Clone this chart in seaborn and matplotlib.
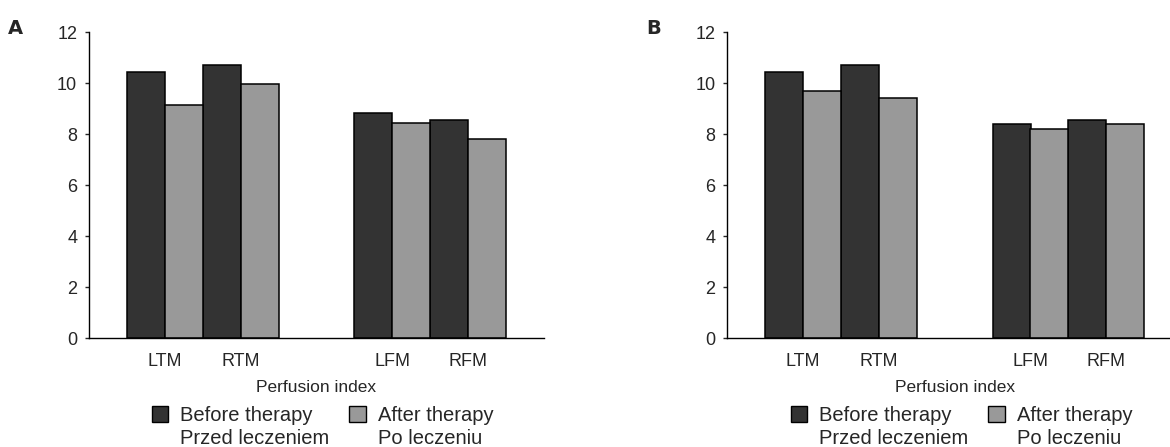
import pandas as pd
import matplotlib
matplotlib.use('Agg')
import matplotlib.pyplot as plt
import seaborn as sns
from matplotlib.patches import Patch

# values (perfusion index)
sites = ['LTM', 'RTM', 'LFM', 'RFM']
before_a = [10.45, 10.70, 8.84, 8.56]
after_a = [9.15, 9.98, 8.43, 7.80]
before_b = [10.45, 10.70, 8.39, 8.56]
after_b = [9.70, 9.44, 8.22, 8.39]

panel_labels = ['A', 'B']
legend_line1 = ['Before therapy', 'After therapy']
legend_line2 = ['Przed leczeniem', 'Po leczeniu']
x_label = 'Perfusion index'
y_ticks = [0, 2, 4, 6, 8, 10, 12]

sns.set_style('white')
plt.rcParams['font.family'] = ['Liberation Sans', 'DejaVu Sans']

colors = {'Before': '#333333', 'After': '#999999'}
order = ['LTM', 'RTM', ' ', 'LFM', 'RFM']

W, H = 1170, 447
fig = plt.figure(figsize=(W / 100, H / 100), dpi=100)

panels = [(before_a, after_a), (before_b, after_b)]
axis_left = [89, 727.3]
legend_x = [151.7, 790.7]
leg_fs = 14.5
leg_px = leg_fs * 100 / 72

for i, (bef, aft) in enumerate(panels):
    df = pd.DataFrame({
        'site': sites * 2,
        'therapy': ['Before'] * 4 + ['After'] * 4,
        'value': bef + aft,
    })
    ax = fig.add_axes([axis_left[i] / W, 1 - 338.3 / H, 454.8 / W, 306 / H])
    sns.barplot(data=df, x='site', y='value', hue='therapy', order=order,
                hue_order=['Before', 'After'], palette=colors, width=1, gap=0,
                edgecolor='black', linewidth=1.1, legend=False, ax=ax)
    ax.set_xlim(-1, 5)
    ax.set_ylim(0, 12)
    ax.set_yticks(y_ticks)
    ax.set_xticks([0, 1, 2, 3, 4])
    ax.set_xticklabels(['LTM', 'RTM', '', 'LFM', 'RFM'])
    ax.set_xticks([2], minor=True)
    ax.tick_params(axis='x', which='major', length=0, pad=10.5, labelsize=13)
    ax.tick_params(axis='x', which='minor', length=3, width=1, direction='out', bottom=True)
    ax.tick_params(axis='y', length=3, width=1, direction='out', left=True, pad=5.5, labelsize=13)
    for s in ['top', 'right']:
        ax.spines[s].set_visible(False)
    for s in ['left', 'bottom']:
        ax.spines[s].set_color('black')
        ax.spines[s].set_linewidth(1.0)
    ax.set_ylabel('')
    ax.set_xlabel(x_label, fontsize=12.5, labelpad=7.5)

    fig.text((axis_left[i] - 81) / W, 1 - 19 / H, panel_labels[i],
             fontsize=14, fontweight='bold', family='DejaVu Sans', va='top', ha='left')

    # legend entries: first line next to the square, second line below it
    for k, key in enumerate(['Before', 'After']):
        x0 = legend_x[i] + k * 197.3
        h = Patch(facecolor=colors[key], edgecolor='black', linewidth=1.0)
        fig.legend([h], [legend_line1[k]], loc='upper left',
                   bbox_to_anchor=(x0 / W, 1 - 406 / H),
                   frameon=False, fontsize=leg_fs, handlelength=0.83, handleheight=0.85,
                   handletextpad=0.6, borderpad=0, borderaxespad=0)
        fig.text((x0 + 0.83 * leg_px + 0.6 * leg_px) / W, 1 - 443.5 / H, legend_line2[k],
                 fontsize=leg_fs, va='baseline', ha='left')

fig.savefig('out.png', dpi=100)
